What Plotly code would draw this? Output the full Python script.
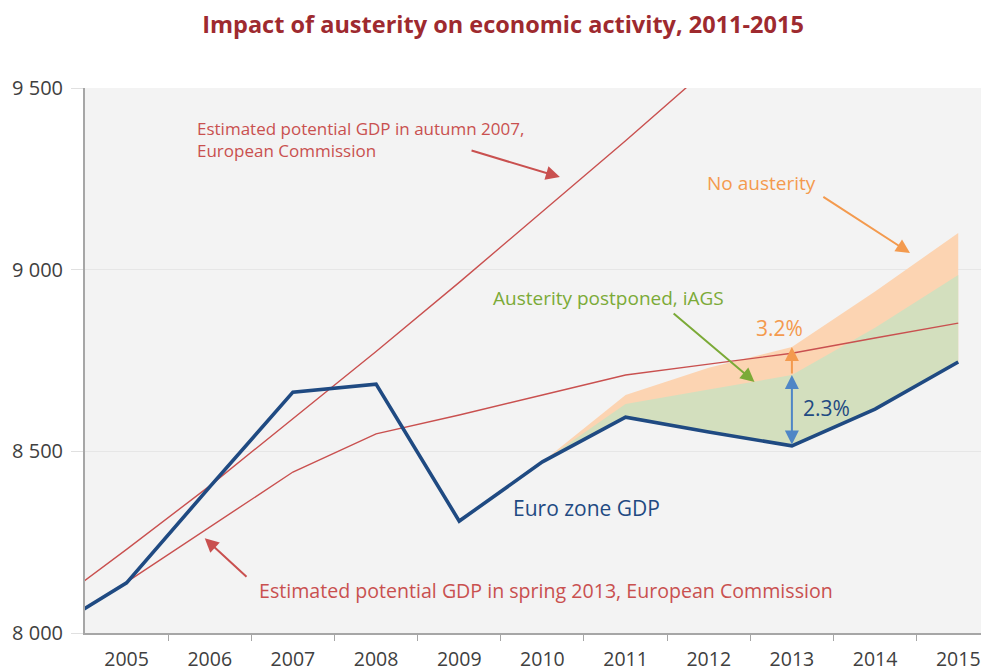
import plotly.graph_objects as go

# ---- data ----
years = [2004, 2005, 2006, 2007, 2008, 2009, 2010, 2011, 2012, 2013, 2014, 2015]
gdp = [7998, 8138, 8402, 8663, 8685, 8308, 8471, 8594, 8553, 8515, 8616, 8746]

autumn_years = [2004, 2005, 2006, 2007, 2008, 2009, 2010, 2011, 2012]
autumn_2007 = [8060, 8230, 8405, 8590, 8775, 8965, 9160, 9355, 9555]

spring_years = [2005, 2006, 2007, 2008, 2009, 2010, 2011, 2012, 2013, 2014, 2015]
spring_2013 = [8140, 8292, 8443, 8548, 8600, 8655, 8710, 8740, 8770, 8812, 8853]

scen_years = [2010, 2011, 2012, 2013, 2014, 2015]
scen_base = [8471, 8594, 8553, 8515, 8616, 8746]
no_austerity = [8471, 8655, 8730, 8787, 8940, 9101]
postponed = [8471, 8630, 8670, 8710, 8840, 8985]

x_tick_vals = [2005, 2006, 2007, 2008, 2009, 2010, 2011, 2012, 2013, 2014, 2015]
x_tick_text = ["2005", "2006", "2007", "2008", "2009", "2010", "2011", "2012", "2013", "2014", "2015"]
y_tick_vals = [8000, 8500, 9000, 9500]
y_tick_text = ["8 000", "8 500", "9 000", "9 500"]

RED = "#C9504F"
NAVY = "#1F4A82"
ORANGE_FILL = "#FCD4B2"
GREEN_FILL = "#D3DFBE"
ORANGE = "#F39A4E"
GREEN = "#7BAA37"
BLUE = "#4F86C6"
FONT = "Open Sans"

fig = go.Figure()

# orange area (no austerity)
fig.add_trace(go.Scatter(x=scen_years, y=scen_base, mode="lines",
                         line=dict(width=0), showlegend=False, hoverinfo="skip"))
fig.add_trace(go.Scatter(x=scen_years, y=no_austerity, mode="lines", fill="tonexty",
                         fillcolor=ORANGE_FILL, line=dict(width=0), showlegend=False))
# green area (austerity postponed)
fig.add_trace(go.Scatter(x=scen_years, y=scen_base, mode="lines",
                         line=dict(width=0), showlegend=False, hoverinfo="skip"))
fig.add_trace(go.Scatter(x=scen_years, y=postponed, mode="lines", fill="tonexty",
                         fillcolor=GREEN_FILL, line=dict(width=0), showlegend=False))

# potential GDP lines
fig.add_trace(go.Scatter(x=autumn_years, y=autumn_2007, mode="lines",
                         line=dict(color=RED, width=1.4), showlegend=False))
fig.add_trace(go.Scatter(x=spring_years, y=spring_2013, mode="lines",
                         line=dict(color=RED, width=1.4), showlegend=False))
# euro zone GDP
fig.add_trace(go.Scatter(x=years, y=gdp, mode="lines",
                         line=dict(color=NAVY, width=3.6), showlegend=False))

ann = []
def text(x, y, s, color, size=20, xanchor="center", align="center"):
    ann.append(dict(x=x, y=y, xref="x", yref="y", text=s, showarrow=False,
                    font=dict(family=FONT, size=size, color=color),
                    xanchor=xanchor, yanchor="middle", align=align))

def arrow(x0, y0, x1, y1, color, width=2, head=2, side="end", size=1.4):
    ann.append(dict(x=x1, y=y1, ax=x0, ay=y0, xref="x", yref="y", axref="x", ayref="y",
                    text="", showarrow=True, arrowhead=head, arrowsize=size,
                    arrowwidth=width, arrowcolor=color, arrowside=side,
                    startarrowhead=head, startarrowsize=size))

text(2005.82, 9359, "Estimated potential GDP in autumn 2007,<br>European Commission",
     RED, size=17, xanchor="left", align="left")
arrow(2009.13, 9329, 2010.21, 9255, RED)
text(2012.64, 9238, "No austerity", ORANGE, size=19)
arrow(2013.36, 9203, 2014.42, 9046, ORANGE)
text(2010.79, 8922, "Austerity postponed, iAGS", GREEN, size=19)
arrow(2011.56, 8883, 2012.55, 8691, GREEN)
text(2012.85, 8839, "3.2%", ORANGE, size=21)
text(2013.41, 8619, "2.3%", NAVY, size=21)
arrow(2013, 8710, 2013, 8787, ORANGE)
arrow(2013, 8515, 2013, 8710, BLUE, side="end+start")
text(2010.53, 8344, "Euro zone GDP", NAVY, size=21)
text(2010.04, 8116, "Estimated potential GDP in spring 2013, European Commission", RED, size=19.6)
arrow(2006.46, 8151, 2005.94, 8261, RED)

# the page adds an 8px body margin, so the figure is laid out 8px up/left
fig.update_layout(
    width=989, height=672,
    margin=dict(l=77, r=8, t=80, b=47),
    paper_bgcolor="white", plot_bgcolor="#F3F3F3",
    title=dict(text="<b>Impact of austerity on economic activity, 2011-2015</b>",
               x=495 / 989, xanchor="center", y=1 - 17 / 672, yanchor="middle",
               font=dict(family=FONT, size=23.5, color="#9E2A2F")),
    annotations=ann,
    showlegend=False,
)
fig.update_xaxes(range=[2004.5, 2015.37], tickvals=x_tick_vals, ticktext=x_tick_text,
                 ticks="", showgrid=False, zeroline=False, automargin=False,
                 showline=True, linecolor="#A6A6A6", linewidth=2,
                 tickfont=dict(family=FONT, size=19.5, color="#404040"),
                 ticklabelstandoff=8,
                 minor=dict(tickvals=[2005.5 + i for i in range(10)], ticks="outside",
                            ticklen=6, tickcolor="#A6A6A6", tickwidth=1, showgrid=False))
fig.update_yaxes(range=[8000, 9500], tickvals=y_tick_vals, ticktext=y_tick_text,
                 showgrid=True, gridcolor="#E6E6E6", gridwidth=1, zeroline=False,
                 automargin=False,
                 showline=True, linecolor="#A6A6A6", linewidth=2,
                 ticks="outside", ticklen=12, tickcolor="#E0E0E0",
                 ticklabelstandoff=4,
                 tickfont=dict(family=FONT, size=20, color="#404040"))

fig.write_html("out.html")
